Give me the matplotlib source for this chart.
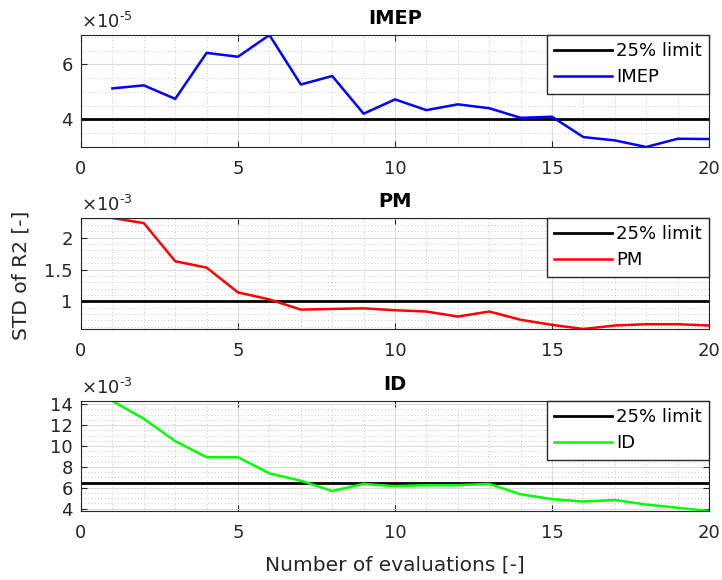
import numpy as np
import matplotlib
matplotlib.use("Agg")
import matplotlib.pyplot as plt
from matplotlib.ticker import MultipleLocator, FixedLocator

plt.rcParams['font.family'] = ['DejaVu Sans']
plt.rcParams['mathtext.fontset'] = 'dejavusans'

evals = np.arange(1, 21)

# values in units of the axis multiplier
imep = [5.13, 5.24, 4.75, 6.42, 6.28, 7.07, 5.27, 5.58, 4.21, 4.73,
        4.34, 4.55, 4.41, 4.06, 4.10, 3.36, 3.24, 3.00, 3.30, 3.29]
pm = [2.31, 2.23, 1.63, 1.53, 1.14, 1.03, 0.87, 0.88, 0.89, 0.86,
      0.84, 0.76, 0.84, 0.71, 0.63, 0.565, 0.62, 0.64, 0.64, 0.62]
id_ = [14.3, 12.6, 10.46, 8.92, 8.92, 7.38, 6.68, 5.69, 6.37, 6.15,
       6.25, 6.25, 6.37, 5.38, 4.92, 4.68, 4.83, 4.40, 4.09, 3.78]

limits = [4.02, 1.0, 6.46]
titles = ['IMEP', 'PM', 'ID']
exps = ['5', '3', '3']
colors = ['#0000ff', '#ff0000', '#00ff00']
yticks = [[4, 6], [1, 1.5, 2], [4, 6, 8, 10, 12, 14]]
yminor = [0.5, 0.1, 0.5]
series = [imep, pm, id_]

fig = plt.figure(figsize=(7.22, 5.80), dpi=100)
W, H = 722, 580
boxes = [(35, 147), (218, 329), (401, 511)]
left, right = 81, 709
FS = 13
TXT = '#262626'

axes = []
for i, (top, bot) in enumerate(boxes):
    ax = fig.add_axes([left / W, 1 - bot / H, (right - left) / W, (bot - top) / H])
    axes.append(ax)
    vals = series[i]
    ax.plot([0, 20], [limits[i], limits[i]], color='black', lw=2, label='25% limit')
    ax.plot(evals, vals, color=colors[i], lw=1.8, label=titles[i])
    ax.set_xlim(0, 20)
    ax.set_ylim(min(vals), max(vals))
    ax.xaxis.set_major_locator(FixedLocator([0, 5, 10, 15, 20]))
    ax.xaxis.set_minor_locator(MultipleLocator(1))
    ax.yaxis.set_major_locator(FixedLocator(yticks[i]))
    ax.yaxis.set_minor_locator(MultipleLocator(yminor[i]))
    ax.set_yticklabels([('%g' % t) for t in yticks[i]])
    ax.grid(True, which='major', color='#dcdcdc', lw=0.8, ls='-')
    ax.grid(True, which='minor', color='#b4b4b4', lw=0.6, ls=(0, (1, 3)))
    ax.set_axisbelow(True)
    ax.tick_params(which='both', direction='in', labelsize=FS, colors=TXT,
                   top=True, right=True)
    ax.tick_params(which='major', length=4)
    ax.tick_params(axis='x', which='major', pad=9)
    ax.tick_params(axis='y', which='major', pad=6)
    ax.tick_params(which='minor', length=0)
    for s in ax.spines.values():
        s.set_color(TXT)
        s.set_linewidth(0.8)
    ax.set_title(titles[i], fontsize=14, fontweight='bold', pad=8)
    ax.text(0.0, 1.03, r'$\times10^{\text{-}%s}$' % exps[i], transform=ax.transAxes,
            fontsize=FS, color=TXT, ha='left', va='bottom')
    leg = ax.legend(loc='upper right', fontsize=FS, handlelength=3.2,
                    fancybox=False, framealpha=1, borderpad=0.4,
                    labelspacing=0.45, handletextpad=0.25, borderaxespad=0)
    leg.get_frame().set_edgecolor(TXT)
    leg.get_frame().set_linewidth(1)

fig.text(21 / W, 1 - 275 / H, 'STD of R2 [-]', fontsize=14.5, color=TXT,
         rotation=90, ha='center', va='center')
fig.text((left + right) / 2 / W, 1 - 565 / H, 'Number of evaluations [-]', fontsize=14.5,
         color=TXT, ha='center', va='center')

fig.savefig('out.png', dpi=100)
